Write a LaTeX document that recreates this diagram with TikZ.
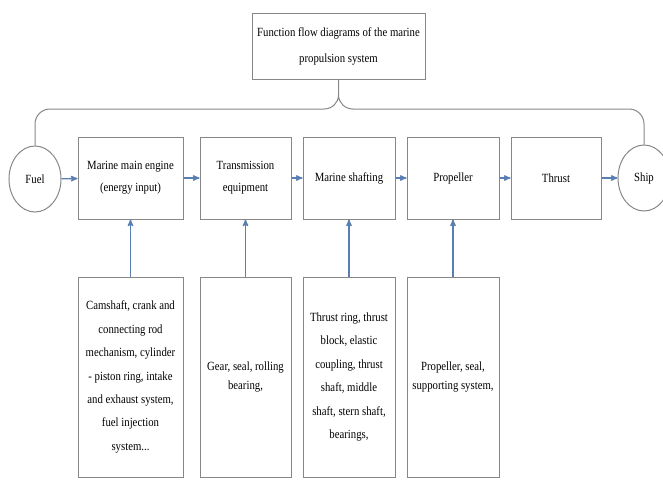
\documentclass[tikz,border=0pt]{standalone}
\usepackage{fontspec}
\newfontfamily\flowfont[FakeStretch=0.86]{Liberation Serif}
\usepackage{tikz}
\usetikzlibrary{shapes.geometric, arrows}
\definecolor{linegray}{RGB}{135,135,135}
\definecolor{flowblue}{RGB}{88,126,178}
\tikzset{
    block/.style={
        draw=linegray,
        line width=1pt,
        rectangle,
        inner sep=0pt,
        minimum height=82pt,
        align=center,
        font=\flowfont\fontsize{12.5}{22}\selectfont
    },
    partbox/.style={
        block,
        minimum height=200pt,
        font=\flowfont\fontsize{12.5}{23.4}\selectfont
    },
    shortlines/.style={font=\flowfont\fontsize{12.5}{18.5}\selectfont},
    endpoint/.style={
        draw=linegray,
        line width=1pt,
        ellipse,
        inner sep=0pt,
        minimum width=52pt,
        minimum height=66pt,
        font=\flowfont\fontsize{12.5}{14}\selectfont
    },
    every edge/.style={
        draw=flowblue,
        ->,>=stealth',
        line width=1.3pt
    }
}

\begin{document}
\begin{tikzpicture}[x=1pt,y=-1pt]
	\useasboundingbox (0,0) rectangle (663,479);
	\node[block,minimum width=173pt,minimum height=66pt,
	      font=\flowfont\fontsize{12.5}{26}\selectfont] at (338.5,46) (title)
	      {Function flow diagrams of the marine\\propulsion system};
	\node[endpoint] at (35,179) (fuel) {Fuel};
	\node[block,minimum width=105pt] at (130.5,178) (engine) {Marine main engine\\(energy input)};
	\node[block,minimum width=91pt] at (245.5,178) (trans) {Transmission\\equipment};
	\node[block,minimum width=92pt] at (349,178) (shafting) {Marine shafting};
	\node[block,minimum width=92pt] at (453,178) (prop) {Propeller};
	\node[block,minimum width=90pt] at (556,178) (thrust) {Thrust};
	\node[endpoint] at (644,178) (ship) {Ship};
	\node[partbox,minimum width=105pt] at (130.5,377) (enginepart)
	      {Camshaft, crank and\\connecting rod\\mechanism, cylinder\\- piston ring, intake\\and exhaust system,\\fuel injection\\system...};
	\node[partbox,shortlines,minimum width=91pt] at (245.5,377) (transpart)
	      {Gear, seal, rolling\\bearing,};
	\node[partbox,minimum width=92pt] at (349,377) (shaftingpart)
	      {Thrust ring, thrust\\block, elastic\\coupling, thrust\\shaft, middle\\shaft, stern shaft,\\bearings,};
	\node[partbox,shortlines,minimum width=92pt] at (453,377) (proppart)
	      {Propeller, seal,\\supporting system,};
	% brace from the title down to both ends
	\coordinate (tip) at (338.5,95);
	\draw[linegray,line width=1pt]
	(fuel.north) -- (35,124) to[out=90,in=180] (50,109) -- (324,109)
	to[out=0,in=-90] (tip) -- (title.south)
	(tip) to[out=-90,in=180] (353,109) -- (629,109)
	to[out=0,in=90] (644,124) -- (ship.north);
	\draw
	(fuel) edge (engine)
	(engine) edge (trans)
	(trans) edge (shafting)
	(shafting) edge (prop)
	(prop) edge (thrust)
	(thrust) edge (ship)
	(enginepart) edge (engine)
	(transpart) edge (trans)
	(shaftingpart) edge (shafting)
	(proppart) edge (prop);
\end{tikzpicture}
\end{document}
